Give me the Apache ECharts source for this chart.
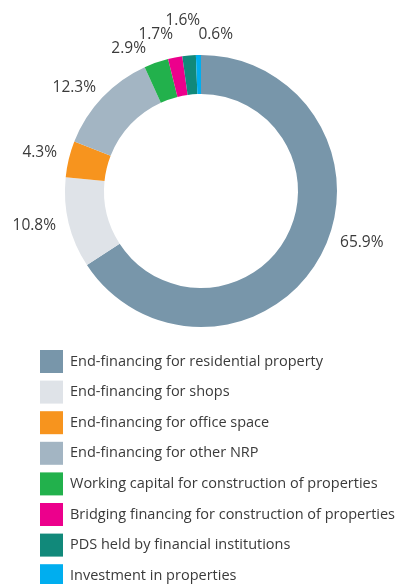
<!DOCTYPE html>
<html><head><meta charset="utf-8">
<script src="https://cdn.jsdelivr.net/npm/echarts@6/dist/echarts.min.js"></script>
<style>html,body{margin:0;padding:0;background:#fff}#c{width:401px;height:584px}</style>
</head><body><div id="c"></div>
<script>
const categories = [
  "End-financing for residential property",
  "End-financing for shops",
  "End-financing for office space",
  "End-financing for other NRP",
  "Working capital for construction of properties",
  "Bridging financing for construction of properties",
  "PDS held by financial institutions",
  "Investment in properties"
];
const values = [65.9, 10.8, 4.3, 12.3, 2.9, 1.7, 1.6, 0.6];
const colors = ["#7896aa", "#dfe3e8", "#f7941e", "#a3b5c3", "#22b14c", "#ec008c", "#11897a", "#00aeef"];

// label nudges (dx, dy) from the default outside anchor, per slice
const labelNudge = [[19.5, -13.4], [-12.8, 3.1], [-11.8, -6.1], [-6.2, -10], [-10.2, -13.6], [-2.1, -23], [11, -35], [34.6, -20.5]];

const chart = echarts.init(document.getElementById('c'), null, {renderer: 'canvas'});
chart.setOption({
  animation: false,
  color: colors,
  legend: {
    orient: 'vertical', left: 40, top: 350, height: 260, padding: 0,
    itemWidth: 23, itemHeight: 23, itemGap: 7.6,
    icon: 'rect',
    data: categories,
    textStyle: {fontFamily: 'Open Sans', fontSize: 14.5, color: '#3a3a3a', padding: [0, 0, 0, 2]},
    selectedMode: false
  },
  series: [{
    type: 'pie',
    center: [201, 191],
    radius: [97, 136],
    startAngle: 90,
    clockwise: true,
    avoidLabelOverlap: false,
    label: {
      show: true, position: 'outside',
      distanceToLabelLine: 0,
      formatter: p => p.value.toFixed(1) + '%',
      fontFamily: 'Open Sans', fontSize: 15.5, color: '#3a3a3a'
    },
    labelLine: {show: false, length: 0, length2: 0},
    labelLayout: p => ({dx: labelNudge[p.dataIndex][0], dy: labelNudge[p.dataIndex][1]}),
    itemStyle: {borderWidth: 0},
    data: categories.map((n, i) => ({name: n, value: values[i]}))
  }]
});
</script></body></html>
